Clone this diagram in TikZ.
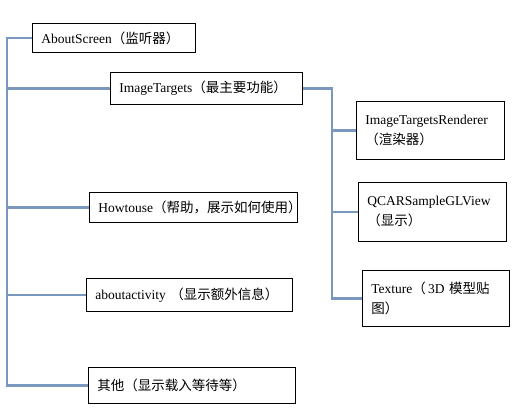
\documentclass[tikz,border=0pt]{standalone}
\usepackage{fontspec}
\setmainfont{Liberation Serif}
\newfontfamily\cjk{Noto Sans CJK SC}
\definecolor{linkblue}{RGB}{122,152,190}

\begin{document}
\begin{tikzpicture}[
    x=1pt, y=-1pt,
    box/.style={draw, line width=0.8pt, anchor=north west, inner xsep=9pt, inner ysep=0pt, align=left, font=\fontsize{13.5}{20}\selectfont},
    link/.style={draw=linkblue, line width=2.5pt}
]
    \useasboundingbox (0,0) rectangle (532,419);

    % left column
    \node [box, text width=145pt, minimum height=29pt] (about) at (32,23) {AboutScreen{\cjk（监听器）}};
    \node [box, text width=174pt, minimum height=32pt] (imgt) at (110,72) {ImageTargets{\cjk（最主要功能）}};
    \node [box, text width=190pt, minimum height=30pt] (howto) at (89,192) {Howtouse{\cjk（帮助，展示如何使用）}};
    \node [box, text width=188pt, minimum height=33pt] (aboutact) at (86,278) {aboutactivity {\cjk（显示额外信息）}};
    \node [box, text width=189pt, minimum height=36pt] (other) at (88,367) {{\cjk 其他（显示载入等待等）}};

    % right column
    \node [box, text width=130pt, minimum height=58pt] (render) at (356,101) {ImageTargetsRenderer\\{\cjk（渲染器）}};
    \node [box, text width=130pt, minimum height=59pt] (qcar) at (358,182) {QCARSampleGLView\\{\cjk（显示）}};
    \node [box, text width=129pt, minimum height=56pt] (texture) at (362,270) {Texture{\cjk（}\,3D {\cjk 模型贴}\\{\cjk 图）}};

    % trunks
    \coordinate (trunk) at (7,0);
    \coordinate (trunk2) at (332,0);

    % connections
    \draw [link] (about.west) -- (trunk |- about.west) -- (trunk |- other.west) -- (other.west);
    \foreach \n in {imgt,howto,aboutact}
        \draw [link] (trunk |- \n.west) -- (\n.west);

    \draw [link] (imgt.east) -| (trunk2 |- texture.west) -- (texture.west);
    \foreach \n in {render,qcar}
        \draw [link] (trunk2 |- \n.west) -- (\n.west);

\end{tikzpicture}
\end{document}
